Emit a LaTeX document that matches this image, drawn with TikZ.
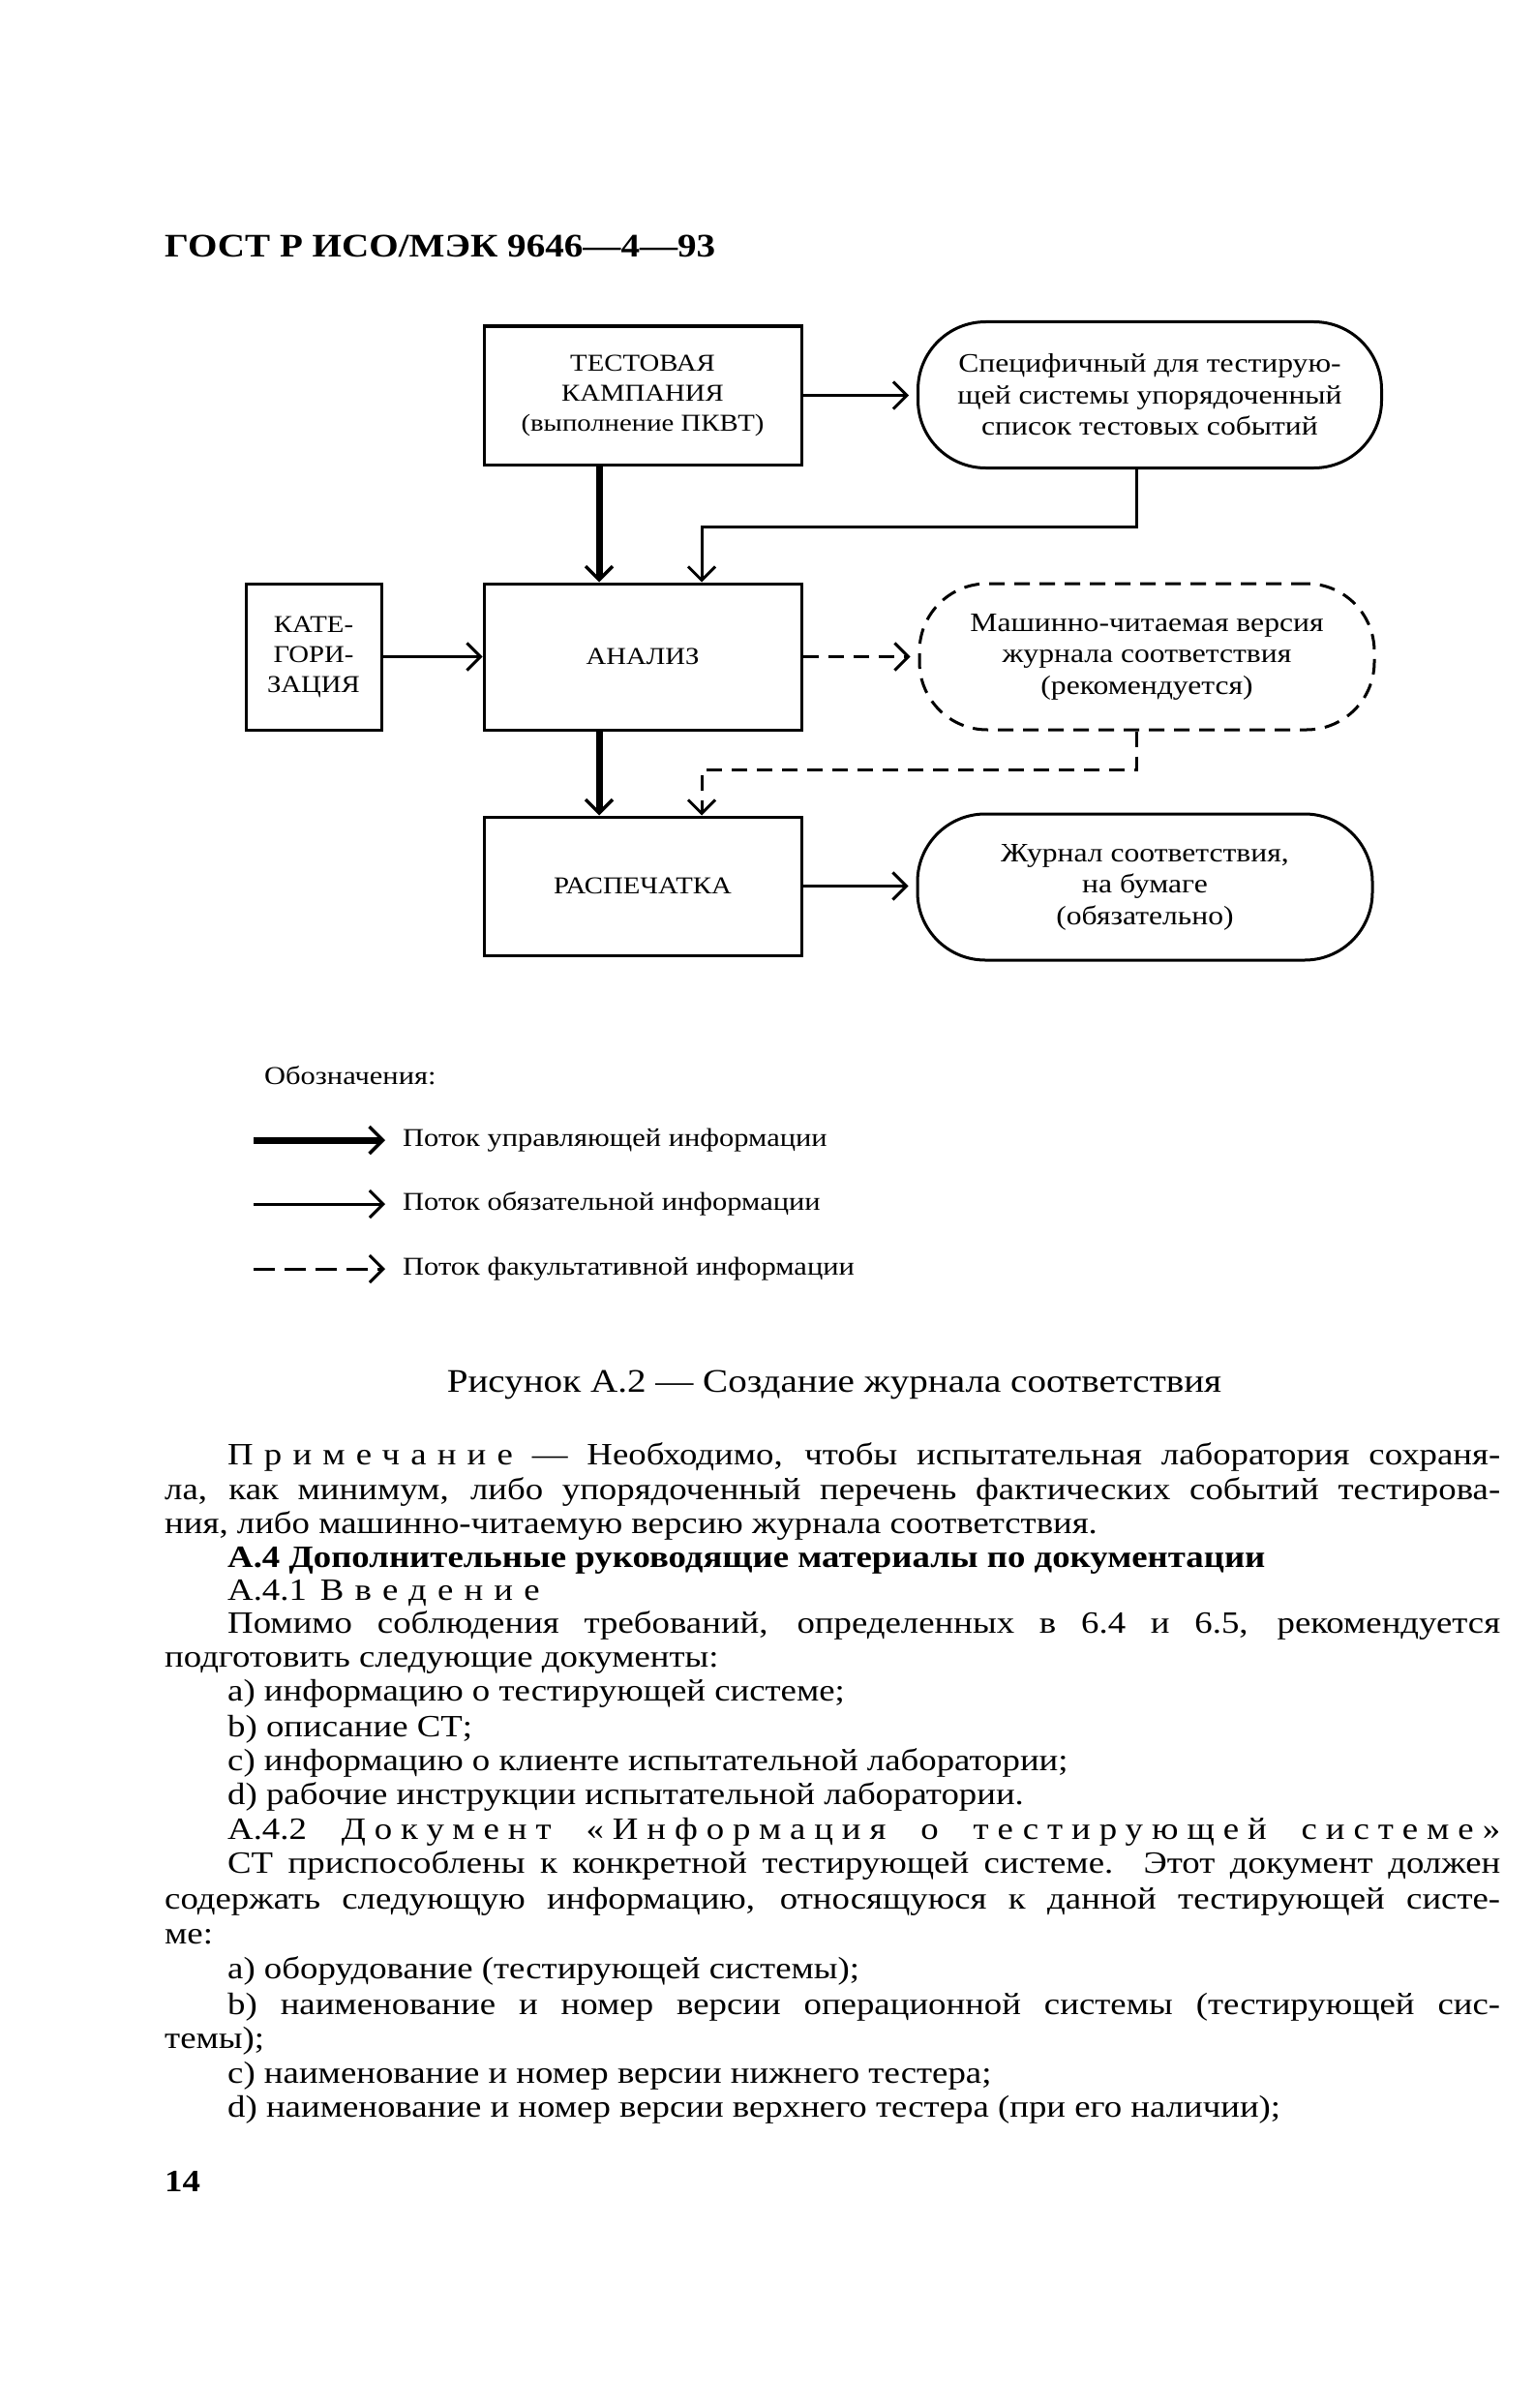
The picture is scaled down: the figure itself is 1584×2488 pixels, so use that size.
\documentclass[tikz,border=0pt]{standalone}
\usepackage{fontspec}
\setmainfont[FakeStretch=1.15]{Liberation Serif}
\usetikzlibrary{arrows.meta,positioning}

\newcommand{\bodysize}{\fontsize{32}{35.2}\selectfont}
\newcommand{\boxsize}{\fontsize{25}{31}\selectfont}
\newcommand{\ovalsize}{\fontsize{27.5}{32.5}\selectfont}
\newcommand{\legsize}{\fontsize{26.5}{30}\selectfont}
\newcommand{\spaced}[1]{{\addfontfeature{LetterSpace=35}#1}}
\newcommand{\halfspaced}[1]{{\addfontfeature{LetterSpace=28}#1}}

\begin{document}
\begin{tikzpicture}[
    x=1pt,y=-1pt,
    stage/.style={draw, line width=3pt, align=center, minimum width=328pt,
                  minimum height=143pt, font=\boxsize, inner sep=4pt},
    record/.style={draw, line width=3pt, rounded corners=70pt, align=center,
                   minimum width=470pt, minimum height=151pt, font=\ovalsize, inner sep=4pt},
    control/.style={-{Straight Barb[length=14pt,width=28pt,line width=3.5pt]}, line width=7pt},
    mandatory/.style={-{Straight Barb[length=14pt,width=28pt]}, line width=3pt},
    optional/.style={mandatory, dash pattern=on 16pt off 10pt},
    textline/.style={anchor=base west, inner sep=0pt, font=\bodysize}
]
\useasboundingbox[fill=white] (0,0) rectangle (1584,2488);

% Page header
\node[anchor=west, inner sep=0pt, font=\fontsize{34}{36}\selectfont\bfseries] (header) at (170,254) {ГОСТ Р ИСО/МЭК 9646—4—93};

% Process boxes
\node[stage] (campaign) at (664,408.5) {ТЕСТОВАЯ\\КАМПАНИЯ\\(выполнение ПКВТ)};
\node[stage, minimum height=151pt] (analysis) at (664,678.5) {АНАЛИЗ};
\node[stage, minimum width=140pt, minimum height=151pt] (category) at (324,678.5) {КАТЕ-\\ГОРИ-\\ЗАЦИЯ};
\node[stage] (printout) at (664,915.5) {РАСПЕЧАТКА};

% Records
\node[record, minimum width=479pt] (events) at (1188,408) {Специфичный для тестирую-\\щей системы упорядоченный\\список тестовых событий};
\node[record, dash pattern=on 16pt off 10pt] (machinelog) at (1185,678.5) {Машинно-читаемая версия\\журнала соответствия\\(рекомендуется)};
\node[record] (paperlog) at (1183,916.5) {Журнал соответствия,\\на бумаге\\(обязательно)};

% Flows
\draw[mandatory, shorten >=8pt] (campaign.east) -- (campaign.east -| events.west);
\draw[control] ([xshift=-45pt]campaign.south) -- ([xshift=-45pt]analysis.north);
\draw[mandatory] ([xshift=-14pt]events.south) -- ++(0,59) -| ([xshift=61pt]analysis.north);
\draw[mandatory] (category) -- (analysis);
\draw[optional, shorten >=8pt] (analysis.east) -- (analysis.east -| machinelog.west);
\draw[control] ([xshift=-45pt]analysis.south) -- ([xshift=-45pt]printout.north);
\draw[optional] ([xshift=-11pt]machinelog.south) -- ++(0,40) -| ([xshift=61pt]printout.north);
\draw[mandatory, shorten >=8pt] (printout.east) -- (printout.east -| paperlog.west);

% Legend
\node[anchor=west, inner sep=0pt, font=\legsize] (legendtitle) at (273,1111) {Обозначения:};
\node[anchor=west, inner sep=0pt, font=\legsize] (ctltext) at (416,1178) {Поток управляющей информации};
\node[anchor=west, inner sep=0pt, font=\legsize] (mandtext) at (416,1244) {Поток обязательной информации};
\node[anchor=west, inner sep=0pt, font=\legsize] (opttext) at (416,1311) {Поток факультативной информации};
\coordinate (ctlstart) at (262,1178);
\coordinate (mandstart) at (262,1244);
\coordinate (optstart) at (262,1311);
\draw[control] (ctlstart) -- ([xshift=-18pt]ctltext.west);
\draw[mandatory] (mandstart) -- ([xshift=-18pt]mandtext.west);
\draw[optional, dash pattern=on 22pt off 10pt] (optstart) -- ([xshift=-18pt]opttext.west);

% Caption
\node[font=\fontsize{34}{36}\selectfont] (caption) at (862,1431) {Рисунок А.2 — Создание журнала соответствия};

% Body text
\node[textline] (l1) at (235,1513) {\makebox[1315pt][s]{\spaced{Примечание} — Необходимо, чтобы испытательная лаборатория сохраня-}};
\node[textline] (l2) at (170,1549) {\makebox[1380pt][s]{ла, как минимум, либо упорядоченный перечень фактических событий тестирова-}};
\node[textline] (l3) at (170,1584) {ния, либо машинно-читаемую версию журнала соответствия.};
\node[textline, font=\bodysize\bfseries] (l4) at (235,1619) {А.4 Дополнительные руководящие материалы по документации};
\node[textline] (l5) at (235,1653) {А.4.1\hspace{14pt}\spaced{Введение}};
\node[textline] (l6) at (235,1687) {\makebox[1315pt][s]{Помимо соблюдения требований, определенных в 6.4 и 6.5, рекомендуется}};
\node[textline] (l7) at (170,1722) {подготовить следующие документы:};
\node[textline] (l8) at (235,1757) {a) информацию о тестирующей системе;};
\node[textline] (l9) at (235,1794) {b) описание СТ;};
\node[textline] (l10) at (235,1829) {c) информацию о клиенте испытательной лаборатории;};
\node[textline] (l11) at (235,1864) {d) рабочие инструкции испытательной лаборатории.};
\node[textline] (l12) at (235,1900) {\makebox[1315pt][s]{А.4.2 \halfspaced{Документ} \halfspaced{«Информация} \halfspaced{о} \halfspaced{тестирующей} \halfspaced{системе»}}};
\node[textline] (l13) at (235,1935) {\makebox[1315pt][s]{СТ приспособлены к конкретной тестирующей системе. Этот документ должен}};
\node[textline] (l14) at (170,1972) {\makebox[1380pt][s]{содержать следующую информацию, относящуюся к данной тестирующей систе-}};
\node[textline] (l15) at (170,2008) {ме:};
\node[textline] (l16) at (235,2044) {a) оборудование (тестирующей системы);};
\node[textline] (l17) at (235,2081) {\makebox[1315pt][s]{b) наименование и номер версии операционной системы (тестирующей сис-}};
\node[textline] (l18) at (170,2116) {темы);};
\node[textline] (l19) at (235,2152) {c) наименование и номер версии нижнего тестера;};
\node[textline] (l20) at (235,2187) {d) наименование и номер версии верхнего тестера (при его наличии);};

% Page number
\node[anchor=west, inner sep=0pt, font=\bodysize\bfseries] (pageno) at (170,2254) {14};
\end{tikzpicture}
\end{document}
